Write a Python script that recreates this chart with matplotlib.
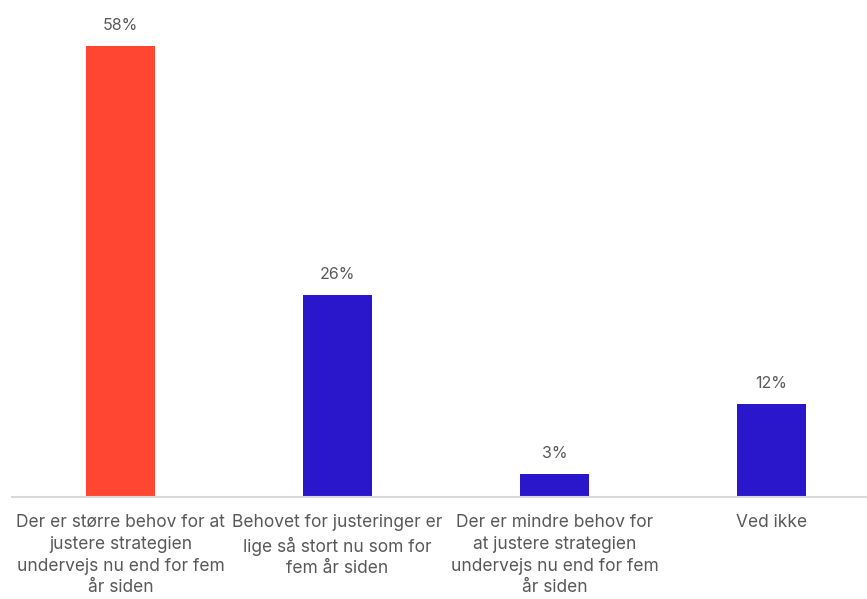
import matplotlib.pyplot as plt

categories = [
    "Der er større behov for at\njustere strategien\nundervejs nu end for fem\når siden",
    "Behovet for justeringer er\nlige så stort nu som for\nfem år siden",
    "Der er mindre behov for\nat justere strategien\nundervejs nu end for fem\når siden",
    "Ved ikke",
]
values = [58, 26, 3, 12]
colors = ["#FF4632", "#2A17CC", "#2A17CC", "#2A17CC"]

plt.rcParams['font.family'] = ['Inter', 'DejaVu Sans']

fig = plt.figure(figsize=(8.67, 5.99), dpi=100)
ax = fig.add_axes([12 / 867, 102 / 599, 855 / 867, 467 / 599])

x = range(len(values))
bars = ax.bar(x, values, width=0.318, color=colors)
for b, v in zip(bars, values):
    ax.annotate(f"{v}%", (b.get_x() + b.get_width() / 2, v), xytext=(0, 9),
                textcoords="offset points", ha="center", va="bottom",
                fontsize=11.5, color="#595959")

ax.set_xlim(-0.5, 3.44)
ax.set_ylim(0, 60)
ax.set_xticks(list(x))
ax.set_xticklabels(categories, fontsize=12.5, color="#595959", linespacing=1.38)
ax.tick_params(axis="x", length=0, pad=12)
ax.set_yticks([])
for s in ["top", "right", "left"]:
    ax.spines[s].set_visible(False)
ax.spines["bottom"].set_color("#D9D9D9")
ax.spines["bottom"].set_linewidth(1.5)

fig.savefig("out.png", dpi=100)
